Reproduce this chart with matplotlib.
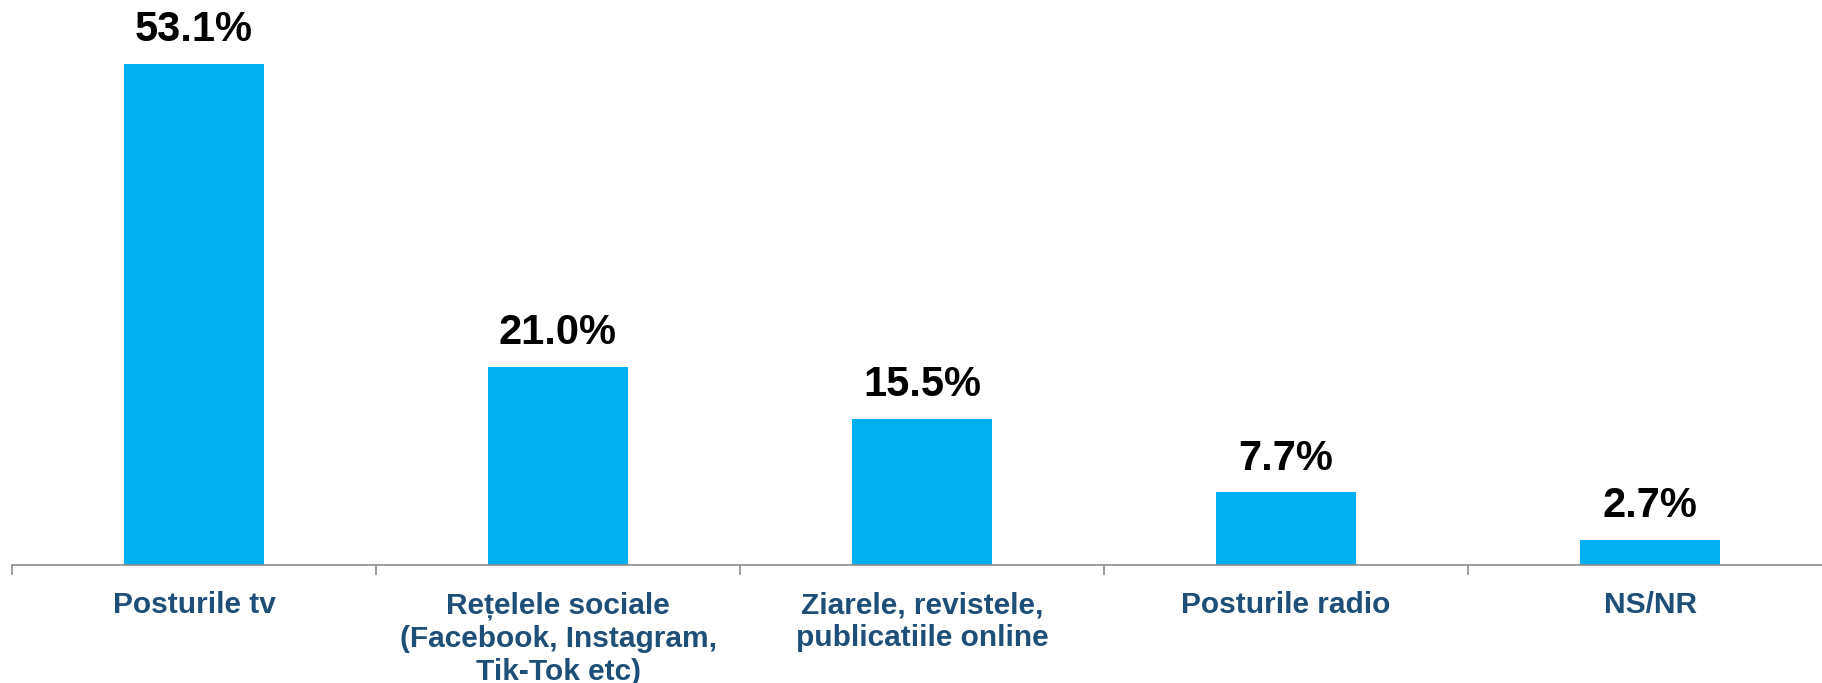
import numpy as np
import matplotlib.pyplot as plt

plt.rcParams["font.family"] = ["Liberation Sans", "DejaVu Sans"]

categorii = ["Posturile tv", "Rețelele sociale\n(Facebook, Instagram,\nTik-Tok etc)",
             "Ziarele, revistele,\npublicatiile online", "Posturile radio", "NS/NR"]
procente = [53.1, 21.0, 15.5, 7.7, 2.7]

fig = plt.figure(figsize=(18.22, 6.83), dpi=100)
# axa trece putin dincolo de marginea dreapta, ca in original
ax = fig.add_axes([12 / 1822, 1 - 565 / 683, 1820 / 1822, 565 / 683])

x = np.arange(len(categorii))
bare = ax.bar(x, procente, width=0.385, color="#00B0F0")

for b, v in zip(bare, procente):
    ax.annotate(f"{v:.1f}%", (b.get_x() + b.get_width() / 2, v),
                xytext=(0, 10), textcoords="offset points",
                ha="center", va="bottom", fontsize=30, fontweight="bold", color="black")

ax.set_xlim(-0.5, len(categorii) - 0.5)
ax.set_ylim(0, 565 / 9.43)

ax.set_xticks(x)
ax.set_xticklabels(categorii, fontsize=21.5, fontweight="bold", color="#1F4E79", linespacing=1.22)
ax.tick_params(axis="x", which="major", length=0, pad=19)
ax.set_xticks(np.arange(len(categorii) + 1) - 0.5, minor=True)
ax.tick_params(axis="x", which="minor", length=7, width=1.2, color="#8C8C8C")

ax.set_yticks([])
for s in ["top", "right", "left"]:
    ax.spines[s].set_visible(False)
ax.spines["bottom"].set_color("#8C8C8C")
ax.spines["bottom"].set_linewidth(1.2)

fig.savefig("out.png", dpi=100)
